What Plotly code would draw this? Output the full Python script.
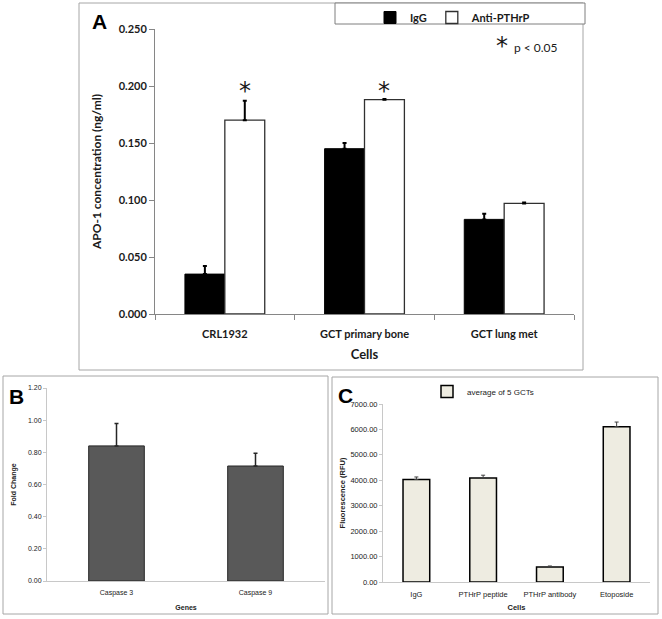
import plotly.graph_objects as go

W, H = 662, 619

# ---------------- Data ----------------
# Panel A
cells_a = ["CRL1932", "GCT primary bone", "GCT lung met"]
igg_a = [0.035, 0.145, 0.083]
igg_err_a = [0.007, 0.005, 0.005]
anti_a = [0.170, 0.188, 0.097]
anti_err_a = [0.017, 0.0006, 0.0008]
yticks_a = [0.0, 0.05, 0.10, 0.15, 0.20, 0.25]

# Panel B
genes_b = ["Caspase 3", "Caspase 9"]
fold_b = [0.84, 0.715]
fold_err_b = [0.14, 0.08]

# Panel C
cells_c = ["IgG", "PTHrP peptide", "PTHrP antibody", "Etoposide"]
rfu_c = [4030, 4090, 590, 6110]
rfu_err_c = [100, 110, 40, 180]

# -------------- helpers --------------
def px(x):
    return x / W

def py(y):
    return 1 - y / H

fig = go.Figure()

# ---------------- Panel A ----------------
bw_a = 40 / 140
fig.add_trace(go.Bar(
    x=cells_a, y=igg_a, name="IgG", xaxis="x", yaxis="y",
    width=bw_a, offset=-bw_a,
    marker=dict(color="black", line=dict(color="black", width=1)),
    error_y=dict(type="data", array=igg_err_a, arrayminus=[0]*3, symmetric=False,
                 color="black", thickness=2, width=2),
    legend="legend",
))
fig.add_trace(go.Bar(
    x=cells_a, y=anti_a, name="Anti-PTHrP", xaxis="x", yaxis="y",
    width=bw_a, offset=0,
    marker=dict(color="white", line=dict(color="#303030", width=1.3)),
    error_y=dict(type="data", array=anti_err_a, arrayminus=[0]*3, symmetric=False,
                 color="black", thickness=2, width=2),
    legend="legend",
))

# ---------------- Panel B ----------------
fig.add_trace(go.Bar(
    x=genes_b, y=fold_b, name="Fold", xaxis="x2", yaxis="y2",
    width=0.4, showlegend=False,
    marker=dict(color="#595959", line=dict(color="#262626", width=1)),
    error_y=dict(type="data", array=fold_err_b, arrayminus=[0]*2, symmetric=False,
                 color="#262626", thickness=1.5, width=2),
))

# ---------------- Panel C ----------------
fig.add_trace(go.Bar(
    x=cells_c, y=rfu_c, name="average of 5 GCTs", xaxis="x3", yaxis="y3",
    width=0.4,
    marker=dict(color="#eeece1", line=dict(color="black", width=1.5)),
    error_y=dict(type="data", array=rfu_err_c, arrayminus=[0]*4, symmetric=False,
                 color="#404040", thickness=1, width=2),
    legend="legend2",
))

FA = "Lato"
FB = "Liberation Sans, Arial"

fig.update_layout(
    width=W, height=H,
    margin=dict(l=0, r=0, t=0, b=0, autoexpand=False),
    paper_bgcolor="white", plot_bgcolor="rgba(0,0,0,0)",
    barmode="overlay",
    font=dict(family=FB, color="black"),
    xaxis=dict(
        domain=[px(155), px(574)], anchor="y", automargin=False,
        showline=True, linecolor="#868686", linewidth=1,
        ticks="outside", tickson="boundaries", ticklen=5, tickcolor="#868686",
        ticklabelstandoff=10,
        showgrid=False, zeroline=False,
        tickfont=dict(family=FA, size=11, color="#1a1a1a", weight="bold"),
        title=dict(text="<b>Cells</b>", font=dict(family=FA, size=13, color="#1a1a1a"), standoff=10),
    ),
    yaxis=dict(
        domain=[py(314), py(29)], anchor="x", automargin=False,
        range=[0, 0.25], tickvals=yticks_a, tickformat=".3f",
        showline=True, linecolor="#868686", linewidth=1,
        ticks="outside", ticklen=5, tickcolor="#868686",
        showgrid=False, zeroline=False,
        tickfont=dict(family=FA, size=11, color="#1a1a1a", weight="bold"),
        title=dict(text="<b>APO-1 concentration (ng/ml)</b>",
                   font=dict(family=FA, size=12, color="#1a1a1a"), standoff=14),
    ),
    xaxis2=dict(
        domain=[px(47), px(325)], anchor="y2", automargin=False,
        showline=True, linecolor="#c8c8c8", linewidth=1,
        ticks="", showgrid=False, zeroline=False, ticklabelstandoff=5,
        tickfont=dict(size=7, color="#222"),
        title=dict(text="<b>Genes</b>", font=dict(size=7, color="#222"), standoff=8),
    ),
    yaxis2=dict(
        domain=[py(581), py(388)], anchor="x2", automargin=False,
        range=[0, 1.2], dtick=0.2, tickformat=".2f",
        showline=True, linecolor="#c8c8c8", linewidth=1,
        ticks="outside", ticklen=3, tickcolor="#c8c8c8",
        showgrid=False, zeroline=False,
        tickfont=dict(size=7, color="#222"),
        title=dict(text="<b>Fold Change</b>", font=dict(size=7, color="#222"), standoff=10),
    ),
    xaxis3=dict(
        domain=[px(383), px(650)], anchor="y3", automargin=False,
        showline=True, linecolor="#c8c8c8", linewidth=1,
        ticks="", showgrid=False, zeroline=False, ticklabelstandoff=5,
        tickfont=dict(size=7.5, color="#222"),
        title=dict(text="<b>Cells</b>", font=dict(size=7.5, color="#222"), standoff=6),
    ),
    yaxis3=dict(
        domain=[py(582), py(404)], anchor="x3", automargin=False,
        range=[0, 7000], dtick=1000, tickformat=".2f",
        showline=True, linecolor="#c8c8c8", linewidth=1,
        ticks="outside", ticklen=3, tickcolor="#c8c8c8",
        showgrid=False, zeroline=False,
        tickfont=dict(size=7.5, color="#222"),
        title=dict(text="<b>Fluorescence (RFU)</b>", font=dict(size=7.5, color="#222"), standoff=3),
    ),
    legend=dict(
        orientation="h", x=px(370), y=py(3), xanchor="left", yanchor="top",
        bgcolor="rgba(0,0,0,0)", borderwidth=0,
        font=dict(family=FA, size=11, color="#1a1a1a", weight="bold"),
        itemwidth=30,
    ),
    legend2=dict(
        orientation="h", x=px(427), y=py(377), xanchor="left", yanchor="top",
        bgcolor="rgba(0,0,0,0)", borderwidth=0,
        font=dict(size=8, color="#222"), itemwidth=30,
    ),
)

# Panel frames and legend box
frame = dict(type="rect", xref="paper", yref="paper", line=dict(color="#a6a6a6", width=1),
             fillcolor="rgba(0,0,0,0)", layer="below")
fig.add_shape(**frame, x0=px(79), x1=px(583), y0=py(370), y1=py(3))
fig.add_shape(**frame, x0=px(3), x1=px(328), y0=py(614), y1=py(376))
fig.add_shape(**frame, x0=px(332), x1=px(658), y0=py(614), y1=py(377))
fig.add_shape(type="rect", xref="paper", yref="paper", line=dict(color="#7f7f7f", width=1),
              fillcolor="white", layer="below",
              x0=px(335), x1=px(585), y0=py(24), y1=py(3))

# Annotations: panel letters, significance stars
ann = []
for letter, x, y in [("A", 90, 21), ("B", 7, 396), ("C", 336, 395)]:
    ann.append(dict(text=f"<b>{letter}</b>", x=px(x), y=py(y), xref="paper", yref="paper",
                    xanchor="left", yanchor="middle", showarrow=False,
                    font=dict(family="Liberation Sans, Arial", size=21, color="black")))
# stars over Anti-PTHrP bars (category index + half bar offset)
star_y = [0.196, 0.1955]
for i in range(2):
    ann.append(dict(text="*", x=i + bw_a / 2, y=star_y[i], xref="x", yref="y",
                    showarrow=False, xanchor="center", yanchor="middle",
                    font=dict(family="DejaVu Sans", size=24, color="#1a1a1a")))
ann.append(dict(text="*", x=px(502), y=py(46), xref="paper", yref="paper", showarrow=False,
                xanchor="center", yanchor="middle", font=dict(family="DejaVu Sans", size=24, color="#1a1a1a")))
ann.append(dict(text="p < 0.05", x=px(512), y=py(47), xref="paper", yref="paper", showarrow=False,
                xanchor="left", yanchor="middle", font=dict(family=FA, size=12, color="#1a1a1a")))
fig.update_layout(annotations=ann)

fig.write_html("out.html", config={"displayModeBar": False},
               post_script="document.body.style.margin='0';")
